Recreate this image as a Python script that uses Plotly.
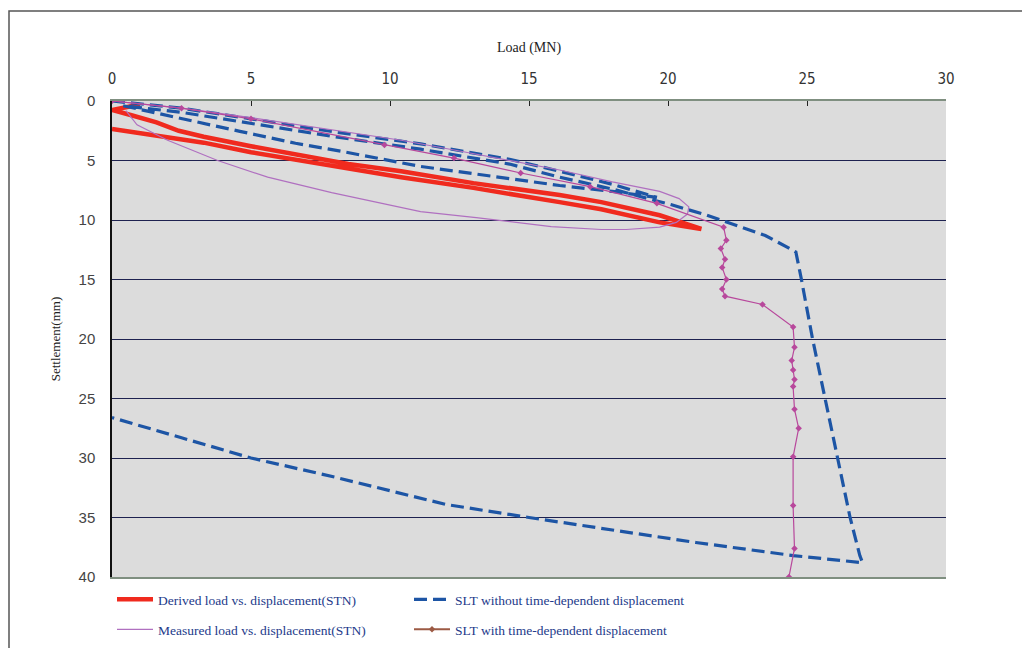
import plotly.graph_objects as go

# ---------------- data (Load in MN, Settlement in mm) ----------------
derived_load = [1.0, 0.0, 0.7, 1.6, 2.4, 3.3, 5.0, 6.8, 8.5, 10.4, 13.0, 16.1, 17.6, 19.7, 21.2,
                19.7, 17.6, 16.1, 13.0, 10.4, 8.0, 6.8, 5.0, 3.3, 1.5, 0.0]
derived_settle = [0.3, 0.75, 1.2, 1.8, 2.5, 3.0, 3.8, 4.6, 5.3, 5.9, 6.9, 7.9, 8.5, 9.6, 10.75,
                  10.2, 9.1, 8.5, 7.3, 6.4, 5.5, 5.0, 4.3, 3.5, 2.85, 2.35]

slt_load = [0, 2.5, 5.0, 8.0, 11.1, 14.3, 16.1, 18.0, 19.6,
            18.0, 16.1, 13.5, 11.1, 8.3, 6.6, 4.6, 3.3, 2.5, 1.5, 0.4,
            2.5, 5.0, 8.0, 11.1, 14.3, 16.1, 18.0, 19.6, 20.1, 21.4, 22.3, 23.5, 24.3, 24.6,
            24.8, 25.2, 25.65, 26.1, 26.55, 26.9, 27.0,
            24.5, 21.0, 15.0, 12.0, 8.0, 5.0, 2.5, 0.0]
slt_settle = [0, 0.6, 1.5, 2.6, 3.6, 4.9, 5.9, 7.0, 8.1,
              7.6, 7.1, 6.3, 5.5, 4.25, 3.55, 2.55, 1.9, 1.5, 1.0, 0.4,
              0.95, 1.9, 3.0, 4.05, 5.3, 6.4, 7.4, 8.4, 8.7, 9.6, 10.3, 11.3, 12.3, 12.7,
              15.0, 20.0, 25.0, 30.0, 35.0, 38.2, 38.8,
              38.2, 37.1, 35.0, 33.9, 31.6, 30.0, 28.3, 26.6]

measured_load = [0, 2.5, 5.0, 7.5, 10.4, 12.5, 14.3, 16.1, 18.0, 19.7, 20.4, 20.75, 20.7,
                 20.3, 19.7, 18.5, 17.6, 15.8, 13.1, 11.1, 7.9, 5.6, 3.8, 2.0, 0.9, 0.5]
measured_settle = [0, 0.6, 1.4, 2.3, 3.3, 4.2, 5.0, 5.8, 6.8, 7.6, 8.2, 8.9, 9.5,
                   10.2, 10.6, 10.8, 10.8, 10.55, 9.8, 9.3, 7.7, 6.4, 5.0, 3.3, 2.0, 0.8]

slt_time_load = [0, 2.5, 5.0, 9.8, 12.3, 14.7, 17.2, 19.6,
                 22.0, 22.1, 21.9, 22.05, 21.95, 22.1, 21.95, 22.05,
                 23.4, 24.5,
                 24.55, 24.45, 24.5, 24.55, 24.5, 24.55, 24.7, 24.5, 24.5, 24.55, 24.35]
slt_time_settle = [0, 0.6, 1.5, 3.7, 4.8, 6.05, 7.2, 8.6,
                   10.6, 11.7, 12.4, 13.3, 14.0, 15.0, 15.8, 16.4,
                   17.1, 19.0,
                   20.7, 21.8, 22.6, 23.4, 24.0, 25.9, 27.5, 29.9, 34.0, 37.6, 40.0]

x_ticks = [0, 5, 10, 15, 20, 25, 30]
y_ticks = [0, 5, 10, 15, 20, 25, 30, 35, 40]

names = ["Derived load vs. displacement(STN)",
         "SLT without time-dependent displacement",
         "Measured load vs. displacement(STN)",
         "SLT with time-dependent displacement"]

# ---------------- figure ----------------
fig = go.Figure()

fig.add_trace(go.Scatter(x=derived_load, y=derived_settle, mode="lines", name=names[0],
                         line=dict(color="#f02a1e", width=4.5), legend="legend", legendrank=1))
fig.add_trace(go.Scatter(x=slt_load, y=slt_settle, mode="lines", name=names[1],
                         line=dict(color="#1d55a5", width=3.2, dash="13px,6px"),
                         legend="legend", legendrank=2))
fig.add_trace(go.Scatter(x=measured_load, y=measured_settle, mode="lines", name=names[2],
                         line=dict(color="#b070c0", width=1.2), legend="legend2", legendrank=3))
fig.add_trace(go.Scatter(x=slt_time_load, y=slt_time_settle, mode="lines+markers", name=names[3],
                         line=dict(color="#b8489c", width=1.2),
                         marker=dict(symbol="diamond", size=5, color="#b8489c"),
                         showlegend=False))
# legend entry in the reference's brown colour
fig.add_trace(go.Scatter(x=[None], y=[None], mode="lines+markers", name=names[3],
                         line=dict(color="#9c5a44", width=2),
                         marker=dict(symbol="diamond", size=5, color="#9c5a44"),
                         legend="legend2", legendrank=4))

serif = "Liberation Serif, Times New Roman, serif"
narrow = "Liberation Sans Narrow, DejaVu Sans Condensed, Arial Narrow, Liberation Sans, sans-serif"

# the page body adds an 8px offset, so the figure is drawn 8px smaller with shifted margins
fig.update_layout(
    width=1022, height=640,
    margin=dict(l=104, r=84, t=93, b=71),
    paper_bgcolor="white",
    plot_bgcolor="#dcdcdc",
    xaxis=dict(
        range=[0, 30], side="top", tickvals=x_ticks, automargin=False,
        ticks="inside", ticklen=5, tickcolor="#222", ticklabelstandoff=9,
        showgrid=False, zeroline=False,
        showline=True, linecolor="#7f8f80", linewidth=1.5, mirror=True,
        tickfont=dict(family=narrow, size=15, color="#333"),
        title=dict(text="Load (MN)", font=dict(family=serif, size=14, color="#222"), standoff=14),
    ),
    yaxis=dict(
        range=[40, 0], tickvals=y_ticks, automargin=False,
        showgrid=True, gridcolor="#1e2250", gridwidth=1.4,
        zeroline=False,
        showline=True, linecolor="#111", linewidth=1.5,
        ticks="", ticklabelstandoff=12,
        tickfont=dict(family="Liberation Sans, Arial, sans-serif", size=15, color="#444"),
        title=dict(text="Settlement(mm)", font=dict(family=serif, size=13, color="#222"), standoff=15),
    ),
    legend=dict(orientation="h", x=0.0, xanchor="left", yref="container", y=0.1, yanchor="top",
                entrywidth=246, itemwidth=36, bgcolor="rgba(0,0,0,0)",
                font=dict(family=serif, size=13.5, color="#233a8a")),
    legend2=dict(orientation="h", x=0.0, xanchor="left", yref="container", y=0.053, yanchor="top",
                 entrywidth=246, itemwidth=36, bgcolor="rgba(0,0,0,0)",
                 font=dict(family=serif, size=13.5, color="#233a8a")),
    shapes=[dict(type="rect", xref="paper", yref="paper",
                 x0=(9 - 112) / 834, x1=1.3, y0=-0.3, y1=(577 - 11) / 476,
                 line=dict(color="#555", width=1.5), fillcolor="rgba(0,0,0,0)", layer="below")],
)

fig.write_html("out.html")
